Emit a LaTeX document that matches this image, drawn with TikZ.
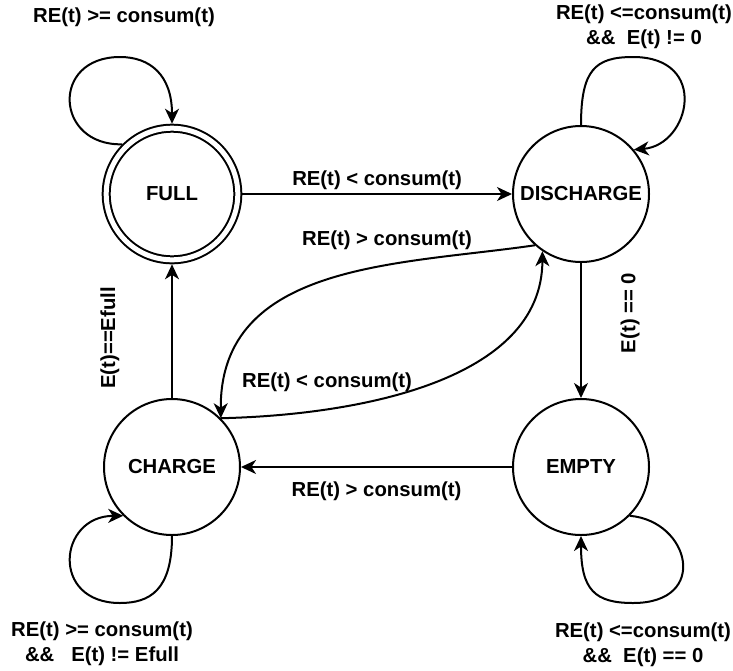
\documentclass[tikz,border=0pt]{standalone}
\usepackage{fontspec}
\setmainfont{Liberation Sans}
\usetikzlibrary{arrows.meta}

\tikzset{
  lbl/.style={font=\bfseries\fontsize{20.3}{25}\selectfont, align=center},
  state/.style={lbl, circle, draw, line width=2pt, minimum size=136pt, inner sep=0pt},
  final/.style={state, double, double distance=5pt, minimum size=131.6pt, outer sep=4.5pt},
  trans/.style={line width=2pt, -{Stealth[length=15pt, width=14pt, inset=4.5pt]}},
}

\begin{document}
\begin{tikzpicture}[x=1pt, y=-1pt]
  \useasboundingbox (0,0) rectangle (733,670);

  % --- states ---
  \node[final] (full) at (172,194) {FULL};
  \node[state] (discharge) at (581,194) {DISCHARGE};
  \node[state] (charge) at (172,467) {CHARGE};
  \node[state] (empty) at (581,467) {EMPTY};

  % --- transitions ---
  \draw[trans] (full) -- node[lbl, above] {RE(t) < consum(t)} (discharge);
  \draw[trans] (discharge) -- node[lbl, pos=0.37, xshift=49pt, rotate=90] {E(t) == 0} (empty);
  \draw[trans] (empty) -- node[lbl, below, yshift=-10pt] {RE(t) > consum(t)} (charge);
  \draw[trans] (charge) -- node[lbl, pos=0.45, xshift=-62pt, rotate=90] {E(t)==Efull} (full);

  \draw[trans] (discharge.228) .. controls (400,265) and (220,262) .. (charge.45);
  \draw[trans] (charge.45) .. controls (360,415) and (542,380) .. (discharge.236);

  % --- self loops ---
  \draw[trans] (full.135) .. controls (55,146) and (50,57) .. (120,57)
    .. controls (150,57) and (172,75) .. (full.north);
  \draw[trans] (discharge.north) .. controls (581,70) and (595,57) .. (633,57)
    .. controls (710,57) and (690,145) .. (discharge.40);
  \draw[trans] (charge.south) .. controls (172,590) and (150,603) .. (120,603)
    .. controls (50,603) and (58,516) .. (charge.225);
  \draw[trans] (empty.-45) .. controls (690,521) and (710,603) .. (633,603)
    .. controls (595,603) and (581,590) .. (empty.south);

  % --- labels ---
  \node[lbl] (lfull) at (124,17) {RE(t) >= consum(t)};
  \node[lbl] (ldis) at (644,27) {RE(t) <=consum(t)\\\&\&~~E(t) != 0};
  \node[lbl] (lchg) at (102,644) {RE(t) >= consum(t)\\\&\&~~~E(t) != Efull};
  \node[lbl] (lemp) at (643,645) {RE(t) <=consum(t)\\\&\&~~E(t) == 0};
  \node[lbl] (ldc) at (387,240) {RE(t) > consum(t)};
  \node[lbl] (lcd) at (327,382) {RE(t) < consum(t)};
\end{tikzpicture}
\end{document}
